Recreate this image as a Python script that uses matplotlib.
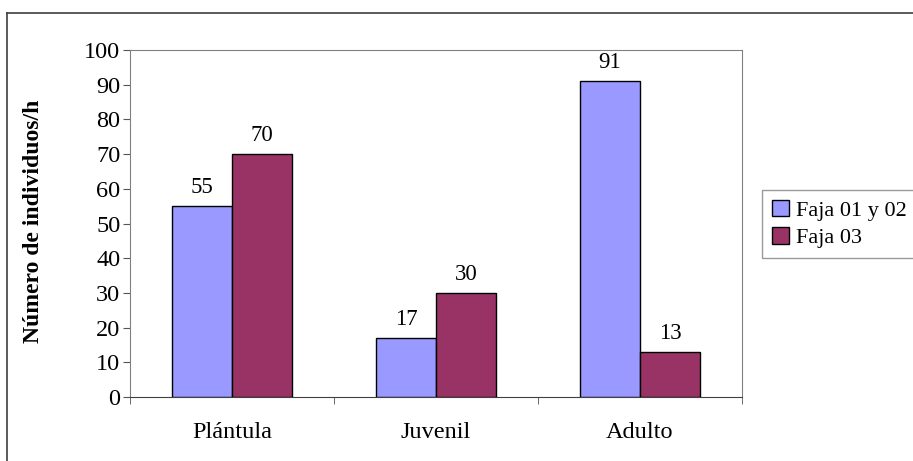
import matplotlib
matplotlib.use("Agg")
import matplotlib.pyplot as plt
from matplotlib.lines import Line2D
import numpy as np

categorias = ["Plántula", "Juvenil", "Adulto"]
faja_01_02 = [55, 17, 91]
faja_03 = [70, 30, 13]
series = ["Faja 01 y 02", "Faja 03"]
colores = ["#9999FF", "#993366"]

plt.rcParams.update({"font.family": ["Liberation Serif", "DejaVu Serif"]})

fig = plt.figure(figsize=(9.13, 4.61), dpi=100)
ax = fig.add_axes([130/913, 1-397/461, (742-130)/913, (397-50)/461])

x = np.arange(len(categorias))
w = 0.293
b1 = ax.bar(x - w/2, faja_01_02, w, color=colores[0], edgecolor="black", linewidth=1, label=series[0], zorder=3)
b2 = ax.bar(x + w/2, faja_03, w, color=colores[1], edgecolor="black", linewidth=1, label=series[1], zorder=3)
for bars, vals in [(b1, faja_01_02), (b2, faja_03)]:
    for r, v in zip(bars, vals):
        ax.annotate(str(v), (r.get_x() + r.get_width()/2, v), xytext=(0, 6), textcoords="offset points",
                    ha="center", va="bottom", fontsize=16.5)

ax.set_xlim(-0.5, 2.5)
ax.set_ylim(0, 100)
ax.set_yticks(range(0, 101, 10))
ax.set_xticks(x)
ax.set_xticklabels(categorias, fontsize=17.5)
ax.set_xticks([-0.5, 0.5, 1.5, 2.5], minor=True)
ax.tick_params(axis="x", which="major", length=0, pad=18)
ax.tick_params(axis="x", which="minor", length=5, color="#555555", direction="out")
ax.tick_params(axis="y", length=5, color="#555555", direction="out", pad=2, labelsize=17.5)
for s in ["top", "right", "left"]:
    ax.spines[s].set_color("#808080")
ax.spines["bottom"].set_color("#404040")
ax.set_ylabel("Número de individuos/h", fontsize=17, fontweight="bold")
ax.yaxis.set_label_coords(-0.14, 0.507)

leg = fig.legend(loc="center left", bbox_to_anchor=(762/913, 1-224/461), fontsize=16, frameon=True,
                 fancybox=False, edgecolor="#808080", handlelength=0.75, handleheight=0.75,
                 handletextpad=0.35, borderpad=0.45, labelspacing=0.3, borderaxespad=0)
leg.get_frame().set_linewidth(1)

fig.add_artist(Line2D([7/913, 1], [1-13/461, 1-13/461], color="#404040", lw=1.2, transform=fig.transFigure))
fig.add_artist(Line2D([7/913, 7/913], [0, 1-13/461], color="#404040", lw=1.2, transform=fig.transFigure))

fig.savefig("out.png", dpi=100)
